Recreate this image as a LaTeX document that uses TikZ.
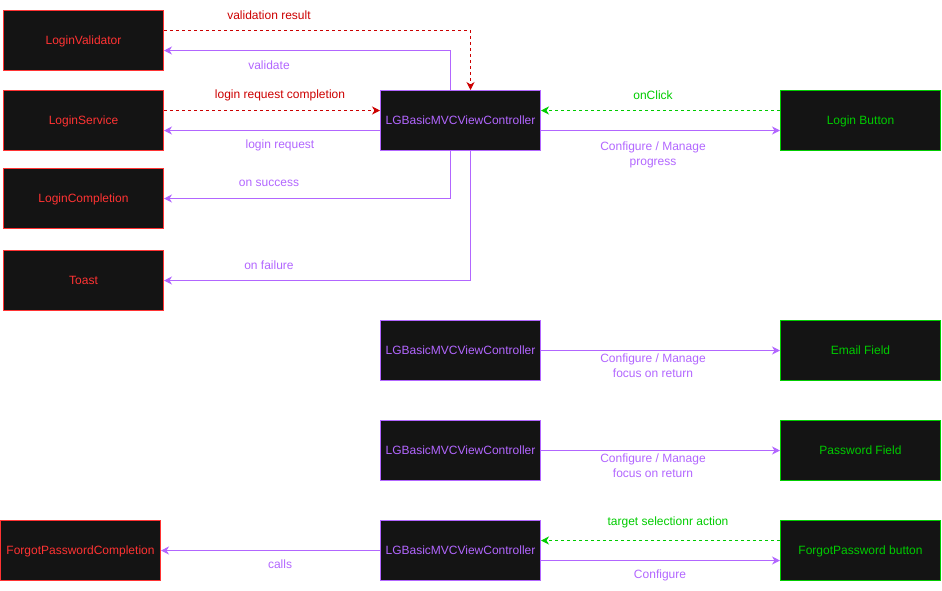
\documentclass[tikz,border=0pt]{standalone}
\usepackage{fontspec}
\setmainfont{Liberation Sans}
\usepackage{xcolor}
\usetikzlibrary{arrows.meta,positioning,calc}
\definecolor{boxfill}{HTML}{141414}
\definecolor{redtxt}{HTML}{FF3333}
\definecolor{redln}{HTML}{CC0000}
\definecolor{purp}{HTML}{B266FF}
\definecolor{grn}{HTML}{00CC00}

\begin{document}
\begin{tikzpicture}[x=1pt,y=-1pt,font=\fontsize{12}{15}\selectfont,
  box/.style={draw,fill=boxfill,line width=1pt,minimum width=160pt,minimum height=60pt,inner sep=0pt,text depth=0pt,anchor=north west},
  rbox/.style={box,draw=redtxt,text=redtxt},
  vbox/.style={box,draw=purp,text=purp},
  gbox/.style={box,draw=grn,text=grn},
  tip/.style={-{Stealth[length=8pt,width=8pt,inset=2.5pt]}},
  flow/.style={tip,draw=purp,line width=1pt},
  rback/.style={tip,draw=redln,line width=1pt,dash pattern=on 3pt off 3pt},
  gback/.style={tip,draw=grn,line width=1pt,dash pattern=on 3pt off 3pt},
  lab/.style={align=center,inner sep=0pt}]
\useasboundingbox (0,0) rectangle (942,590);
\node[rbox] (val) at (3,10) {LoginValidator};
\node[rbox] (svc) at (3,90) {LoginService};
\node[rbox] (comp) at (3,168) {LoginCompletion};
\node[rbox] (toast) at (3,250) {Toast};
\node[vbox] (vc) at (380,90) {LGBasicMVCViewController};
\node[gbox] (btn) at (780,90) {Login Button};

\draw[rback] ($(val.east)+(0,-10)$) -| ($(vc.north)+(10,0)$);
\draw[flow] ($(vc.north)+(-10,0)$) |- ($(val.east)+(0,10)$);
\draw[rback] ($(svc.east)+(0,-10)$) -- ($(vc.west)+(0,-10)$);
\draw[flow] ($(vc.west)+(0,10)$) -- ($(svc.east)+(0,10)$);
\draw[flow] ($(vc.south)+(-10,0)$) |- (comp.east);
\draw[flow] ($(vc.south)+(10,0)$) |- (toast.east);
\draw[gback] ($(btn.west)+(0,-10)$) -- ($(vc.east)+(0,-10)$);
\draw[flow] ($(vc.east)+(0,10)$) -- ($(btn.west)+(0,10)$);

\node[lab,text=redln] (lres) at (269,15) {validation result};
\node[lab,text=purp] (lval) at (269,65) {validate};
\node[lab,text=redln] (lrc) at (280,95.5) {login request completion};
\node[lab,text=purp] (lreq) at (280,145.5) {login request};
\node[lab,text=purp] (lok) at (269,183.5) {on success};
\node[lab,text=purp] (lfail) at (269,265.5) {on failure};
\node[lab,text=grn] (lclick) at (653,95.5) {onClick};
\node[lab,text=purp] (lprog) at (653,154.5) {Configure / Manage\\progress};

\foreach \nm/\y/\fld in {email/320/Email Field,pass/420/Password Field} {
  \node[vbox] (vc\nm) at (380,\y) {LGBasicMVCViewController};
  \node[gbox] (\nm) at (780,\y) {\fld};
  \draw[flow] (vc\nm.east) -- (\nm.west);
  \node[lab,text=purp] (l\nm) at (653,\y+45.5) {Configure / Manage\\focus on return};
}

\node[rbox] (fpc) at (0,520) {ForgotPasswordCompletion};
\node[vbox] (vcfp) at (380,520) {LGBasicMVCViewController};
\node[gbox] (fpb) at (780,520) {ForgotPassword button};
\draw[gback] ($(fpb.west)+(0,-10)$) -- ($(vcfp.east)+(0,-10)$);
\draw[flow] ($(vcfp.east)+(0,10)$) -- ($(fpb.west)+(0,10)$);
\draw[flow] (vcfp.west) -- (fpc.east);
\node[lab,text=grn] (ltarget) at (668,522.5) {target selectionr action};
\node[lab,text=purp] (lconf) at (660,575.5) {Configure};
\node[lab,text=purp] (lcalls) at (280,564.5) {calls};
\end{tikzpicture}
\end{document}
